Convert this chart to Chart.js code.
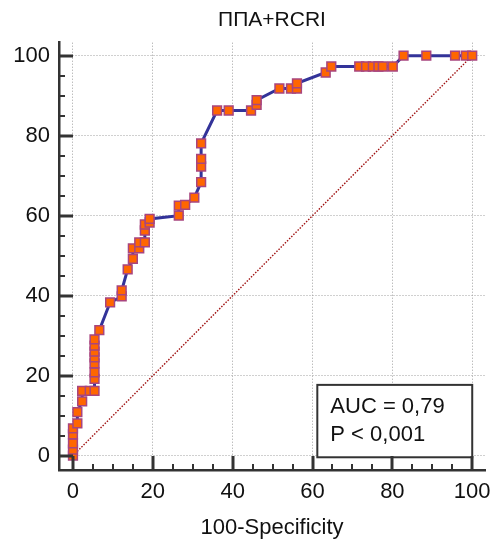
<!DOCTYPE html>
<html>
<head>
<meta charset="utf-8">
<script src="https://cdn.jsdelivr.net/npm/chart.js@4"></script>
<style>
  html, body { margin:0; padding:0; background:#fff; }
  #wrap { width:494px; height:540px; }
</style>
</head>
<body>
<div id="wrap"><canvas id="roc" width="494" height="540"></canvas></div>
<script>
// ROC curve, MedCalc style
const chartTitle = 'ППА+RCRI';
const xAxisTitle = '100-Specificity';
const tickValues = [0, 20, 40, 60, 80, 100];
const minorStep = 5;

// 100-Specificity / Sensitivity at each criterion
const fpr = [0, 0, 0, 0, 0, 1.1, 1.1, 2.3, 2.3, 4.2, 5.4, 5.4, 5.4, 5.4, 5.4, 5.4, 5.4, 5.4, 6.6, 9.3,
  12.2, 12.2, 13.7, 15.0, 15.0, 16.6, 16.6, 18.0, 18.0, 18.0, 19.2, 19.2, 26.5, 26.5, 28.1, 30.4,
  32.1, 32.1, 32.1, 32.1, 36.1, 39.0, 44.6, 46.0, 46.0, 51.7, 54.6, 56.1, 56.1, 63.3, 64.7,
  71.7, 73.4, 75.1, 76.5, 77.6, 80.1, 82.8, 88.5, 95.7, 98.4, 100];
const sens = [0, 1.5, 3.1, 5.3, 6.8, 8.1, 10.9, 13.6, 16.2, 16.2, 16.2, 19.2, 20.8, 23.1, 24.6, 26.0, 27.5, 29.1, 31.4, 38.3,
  39.8, 41.3, 46.6, 49.2, 51.8, 51.8, 53.3, 53.3, 56.3, 57.8, 58.3, 59.2, 60.0, 62.5, 62.7, 64.5,
  68.4, 72.3, 74.2, 78.1, 86.3, 86.3, 86.3, 87.7, 88.9, 91.8, 91.8, 91.8, 93.1, 95.8, 97.3,
  97.3, 97.3, 97.3, 97.3, 97.3, 97.3, 100, 100, 100, 100, 100];
const diagX = [0, 100];
const diagY = [0, 100];
const statLines = ['AUC = 0,79', 'P < 0,001'];

const FONT = 'Liberation Sans, Arial, sans-serif';

const rocPoints = fpr.map((x, i) => ({x, y: sens[i]}));
const diagPoints = diagX.map((x, i) => ({x, y: diagY[i]}));

// inward tick marks + the AUC box
const extras = {
  id: 'extras',
  afterDraw(chart) {
    const {ctx, scales: {x, y}} = chart;
    ctx.save();
    // AUC box
    const bl = x.getPixelForValue(61.2), br = x.getPixelForValue(100);
    const bt = y.getPixelForValue(17.7), bb = y.getPixelForValue(-0.4);
    ctx.fillStyle = '#fff';
    ctx.fillRect(bl, bt, br - bl, bb - bt);
    ctx.strokeStyle = '#333';
    ctx.lineWidth = 2;
    ctx.strokeRect(bl, bt, br - bl, bb - bt);
    ctx.fillStyle = '#111';
    ctx.font = '22px ' + FONT;
    ctx.textBaseline = 'middle';
    ctx.textAlign = 'left';
    ctx.fillText(statLines[0], bl + 13, bt + 22);
    ctx.fillText(statLines[1], bl + 13, bt + 50);

    // ticks
    ctx.strokeStyle = '#333';
    const axY = x.top, axX = y.right;
    for (let v = 0; v <= 100; v += minorStep) {
      const major = v % 20 === 0;
      const len = major ? 14 : 6;
      ctx.lineWidth = major ? 3 : 2;
      const px = Math.round(x.getPixelForValue(v));
      ctx.beginPath(); ctx.moveTo(px, axY); ctx.lineTo(px, axY - len); ctx.stroke();
      const py = Math.round(y.getPixelForValue(v));
      ctx.beginPath(); ctx.moveTo(axX, py); ctx.lineTo(axX + len, py); ctx.stroke();
    }
    ctx.restore();
  }
};

const gridOpts = { color: '#a0a0a0', lineWidth: 1, drawTicks: false };
const borderOpts = { color: '#333', width: 2.5, dash: [1, 2] };
const tickFont = { family: FONT, size: 22 };

new Chart(document.getElementById('roc'), {
  type: 'line',
  data: {
    datasets: [
      {
        data: rocPoints,
        borderColor: '#333399',
        borderWidth: 3,
        tension: 0,
        pointStyle: 'rect',
        pointRadius: 6.2,
        pointBackgroundColor: '#ff6600',
        pointBorderColor: '#a8457f',
        pointBorderWidth: 1.5
      },
      {
        data: diagPoints,
        borderColor: '#a01010',
        borderWidth: 1.4,
        borderDash: [1.5, 1.5],
        pointRadius: 0
      }
    ]
  },
  options: {
    responsive: false,
    animation: false,
    devicePixelRatio: 1,
    layout: { padding: { top: 0, right: 9, left: 0, bottom: 0 } },
    plugins: {
      legend: { display: false },
      tooltip: { enabled: false },
      title: {
        display: true,
        text: chartTitle,
        fullSize: false,
        color: '#111',
        font: { family: FONT, size: 21, weight: 'normal', lineHeight: 1.2 },
        padding: { top: 8, bottom: 9.5 }
      }
    },
    scales: {
      x: {
        type: 'linear',
        min: -3.5, max: 103.2,
        afterBuildTicks: s => { s.ticks = tickValues.map(v => ({value: v})); },
        afterFit: s => { s.height = 70; s.paddingLeft = 0; s.paddingRight = 0; },
        grid: gridOpts,
        border: borderOpts,
        ticks: { padding: 8.5, color: '#111', font: tickFont, maxRotation: 0, autoSkip: false },
        title: {
          display: true, text: xAxisTitle, color: '#111',
          font: { family: FONT, size: 22, lineHeight: 1 },
          padding: { top: 0, bottom: 1 }
        }
      },
      y: {
        type: 'linear',
        min: -3.58, max: 103.25,
        afterBuildTicks: s => { s.ticks = tickValues.map(v => ({value: v})); },
        afterFit: s => { s.width = 59; s.paddingTop = 0; s.paddingBottom = 0; },
        grid: gridOpts,
        border: borderOpts,
        ticks: { padding: 9, color: '#111', font: tickFont, autoSkip: false }
      }
    }
  },
  plugins: [extras]
});
</script>
</body>
</html>
